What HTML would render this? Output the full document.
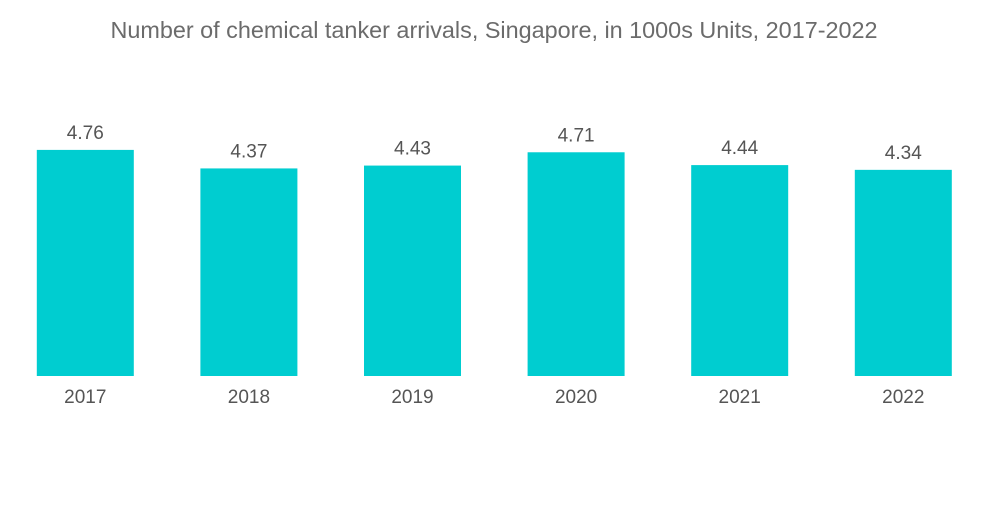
<!DOCTYPE html>
<html><head><meta charset="utf-8"><style>
body{margin:0;background:#fff;}
svg text{font-family:"Liberation Sans",sans-serif;}
</style></head><body>
<svg id="chart" width="1000" height="504">
<text x="494" y="38" text-anchor="middle" font-size="23.4" fill="#6b6b6b">Number of chemical tanker arrivals, Singapore, in 1000s Units, 2017-2022</text>
<g id="bars"></g>
</svg>
<script>
const categories=["2017","2018","2019","2020","2021","2022"];
const values=[4.76,4.37,4.43,4.71,4.44,4.34];
const valueLabels=["4.76","4.37","4.43","4.71","4.44","4.34"];
const ns="http://www.w3.org/2000/svg";
const g=document.getElementById("bars");
const baseY=376, scale=47.5, x0=3.5, step=163.6, bw=97;
function xC(i){return x0+step*(i+0.5);}
function yS(v){return baseY-v*scale;}
categories.forEach((c,i)=>{
 const r=document.createElementNS(ns,"rect");
 r.setAttribute("x",xC(i)-bw/2);r.setAttribute("y",yS(values[i]));
 r.setAttribute("width",bw);r.setAttribute("height",baseY-yS(values[i]));
 r.setAttribute("fill","#00cdd0");
 
 
 g.appendChild(r);
 const t=document.createElementNS(ns,"text");
 t.setAttribute("x",xC(i));t.setAttribute("y",yS(values[i])-11);
 t.setAttribute("text-anchor","middle");t.setAttribute("font-size","19");t.setAttribute("fill","#555");
 t.textContent=valueLabels[i];
 
 
 g.appendChild(t);
 const l=document.createElementNS(ns,"text");
 l.setAttribute("x",xC(i));l.setAttribute("y",403);
 l.setAttribute("text-anchor","middle");l.setAttribute("font-size","19");l.setAttribute("fill","#555");
 l.textContent=c;
 
 
 g.appendChild(l);
});
</script>
</body></html>
